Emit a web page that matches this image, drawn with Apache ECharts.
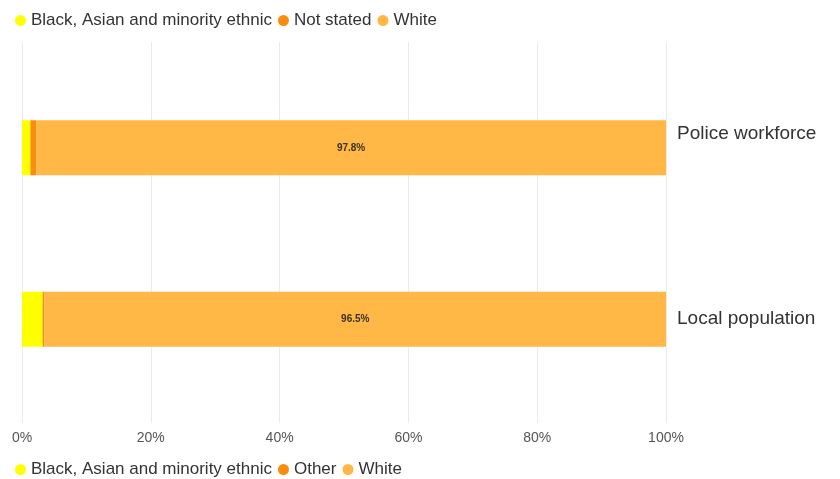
<!DOCTYPE html>
<html>
<head>
<meta charset="utf-8">
<script src="https://cdn.jsdelivr.net/npm/echarts@6/dist/echarts.min.js"></script>
<style>html,body{margin:0;padding:0;background:#fff;}#c{width:840px;height:479px;}</style>
</head>
<body>
<div id="c"></div>
<script>
var categories = ['Local population', 'Police workforce'];
var bameValues = [3.2, 1.3];
var notStatedValues = ['-', 0.9];
var otherValues = [0.3, '-'];
var whiteValues = [96.5, 97.8];
var xTicks = [0, 20, 40, 60, 80, 100];
var topLegendItems = ['Black, Asian and minority ethnic', 'Not stated', 'White'];
var bottomLegendItems = ['Black, Asian and minority ethnic', 'Other', 'White'];

var font = 'Liberation Sans, Arial, sans-serif';
var chart = echarts.init(document.getElementById('c'));
function legendCfg(items, top) {
  return {
    data: items, left: 10, top: top, icon: 'circle', itemWidth: 11, itemHeight: 11,
    itemGap: 6, textStyle: { fontFamily: font, fontSize: 17, color: '#333' }
  };
}
var xMin = xTicks[0], xMax = xTicks[xTicks.length - 1];
chart.setOption({
  animation: false,
  legend: [legendCfg(topLegendItems, 7), legendCfg(bottomLegendItems, 456)],
  grid: [
    { left: 22, right: 174, top: 62, bottom: 74 },
    { left: 22, right: 174, top: 42, bottom: 56 }
  ],
  xAxis: [
    { type: 'value', gridIndex: 0, min: xMin, max: xMax, interval: 20, show: false, splitLine: { show: false } },
    { type: 'value', gridIndex: 1, min: xMin, max: xMax, interval: 20,
      axisLine: { show: false }, axisTick: { show: false },
      axisLabel: { formatter: '{value}%', fontFamily: font, fontSize: 14, color: '#555', margin: 8 },
      splitLine: { lineStyle: { color: '#ebebeb' } } }
  ],
  yAxis: [
    { type: 'category', gridIndex: 0, data: categories, position: 'right',
      axisLine: { show: false }, axisTick: { show: false },
      axisLabel: {
        fontFamily: font, fontSize: 19, color: '#333', margin: 11,
        formatter: function (v, i) { return i === 1 ? '{up|' + v + '}' : v; },
        rich: { up: { fontFamily: font, fontSize: 19, color: '#333', padding: [0, 0, 28, 0] } }
      } },
    { type: 'value', gridIndex: 1, min: 0, max: 1, show: false, splitLine: { show: false } }
  ],
  series: [
    { name: 'Black, Asian and minority ethnic', type: 'bar', stack: 's', barWidth: 55, data: bameValues, itemStyle: { color: '#FFFF00' } },
    { name: 'Not stated', type: 'bar', stack: 's', barWidth: 55, data: notStatedValues, itemStyle: { color: '#FB8C0C' } },
    { name: 'Other', type: 'bar', stack: 's', barWidth: 55, data: otherValues, itemStyle: { color: '#FB8C0C' } },
    { name: 'White', type: 'bar', stack: 's', barWidth: 55, data: whiteValues, itemStyle: { color: '#FFB845' },
      label: { show: true, position: 'inside', formatter: '{c}%', fontFamily: font, fontSize: 10, fontWeight: 'bold', color: '#3a3020' } }
  ]
});
</script>
</body>
</html>
